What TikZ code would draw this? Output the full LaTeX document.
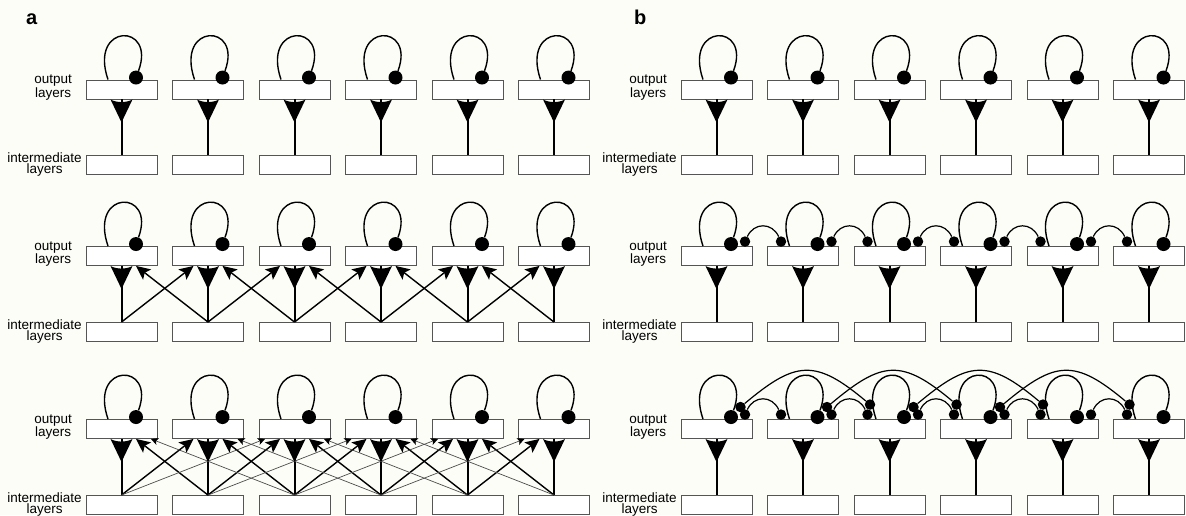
\documentclass[tikz,border=0pt]{standalone}
\usepackage{fontspec}
\setmainfont{Liberation Sans}
\usetikzlibrary{positioning,arrows.meta,calc}
\definecolor{paper}{RGB}{253,253,247}
\definecolor{edgegray}{RGB}{85,85,85}
\newcommand{\synwedge}[1]{\fill ([xshift=-11pt]#1.south) -- ([yshift=-23pt]#1.south) -- ([xshift=11pt]#1.south)
  .. controls ([xshift=5pt,yshift=-3.5pt]#1.south) and ([xshift=-5pt,yshift=-3.5pt]#1.south) .. cycle;}

\begin{document}
\begin{tikzpicture}[x=1pt, y=1pt,
  font=\fontsize{13.5pt}{11pt}\selectfont,
  lyrbox/.style={draw=edgegray, fill=white, line width=0.9pt, minimum width=71pt, minimum height=19pt, inner sep=0pt},
  lbl/.style={align=center, inner sep=0pt},
  tag/.style={font=\fontsize{20pt}{20pt}\selectfont\bfseries, anchor=base west, inner sep=0pt},
  bigdot/.style={circle, fill=black, minimum size=14pt, inner sep=0pt},
  smalldot/.style={circle, fill=black, minimum size=10.5pt, inner sep=0pt},
  stem/.style={line width=2pt},
  selfloop/.style={line width=1.4pt},
  lat/.style={line width=1.2pt},
  exc1/.style={line width=1.4pt, -{Stealth[length=14pt,width=13pt,inset=3pt]}},
  exc2/.style={line width=0.7pt, draw=black!70, -{Stealth[length=7pt,width=7pt,inset=1.5pt,color=black]}}]
  \path[use as bounding box, fill=paper] (0,0) rectangle (1186,515);
  \node[tag] (pa) at (26,490) {a};
  \node[tag] (pb) at (634,490) {b};
  % boxes, stems and self loops
  \foreach \r/\yo/\yi in {1/425.5/350, 2/259/183, 3/86/10} {
    \foreach \i in {0,...,5} {
      \node[lyrbox] (oa\r\i) at (121.5+86.5*\i,\yo) {};
      \node[lyrbox] (ia\r\i) at (121.5+86.5*\i,\yi) {};
      \node[lyrbox] (ob\r\i) at (716.5+86.5*\i,\yo) {};
      \node[lyrbox] (ib\r\i) at (716.5+86.5*\i,\yi) {};
      \draw[stem] (ia\r\i.north) -- (oa\r\i.south);
      \draw[stem] (ib\r\i.north) -- (ob\r\i.south);
      \node[bigdot] (da\r\i) at ([xshift=14.5pt,yshift=2pt]oa\r\i.north) {};
      \node[bigdot] (db\r\i) at ([xshift=14.5pt,yshift=2pt]ob\r\i.north) {};
      \draw[selfloop] ([xshift=-13.5pt]oa\r\i.north) .. controls ([xshift=-33pt,yshift=57pt]oa\r\i.north) and ([xshift=35pt,yshift=57pt]oa\r\i.north) .. (da\r\i);
      \draw[selfloop] ([xshift=-13.5pt]ob\r\i.north) .. controls ([xshift=-33pt,yshift=57pt]ob\r\i.north) and ([xshift=35pt,yshift=57pt]ob\r\i.north) .. (db\r\i);
    }
    \node[lbl] (outa\r) at ([xshift=-32.5pt,yshift=2pt]oa\r0.west) {output\\layers};
    \node[lbl] (inta\r) at ([xshift=-41pt]ia\r0.west) {intermediate\\layers};
    \node[lbl] (outb\r) at ([xshift=-32.5pt,yshift=2pt]ob\r0.west) {output\\layers};
    \node[lbl] (intb\r) at ([xshift=-41pt]ib\r0.west) {intermediate\\layers};
  }
  % a: feedforward to neighbours
  \foreach \r in {2,3} {
    \foreach \i in {0,...,4} {
      \pgfmathtruncatemacro\j{\i+1}
      \draw[exc1] (ia\r\i.north) -- ([xshift=-14.5pt]oa\r\j.south);
      \draw[exc1] (ia\r\j.north) -- ([xshift=14.5pt]oa\r\i.south);
    }
  }
  \foreach \i in {0,...,3} {
    \pgfmathtruncatemacro\k{\i+2}
    \draw[exc2] (ia3\i.north) -- ([xshift=-29.5pt]oa3\k.south);
    \draw[exc2] (ia3\k.north) -- ([xshift=29.5pt]oa3\i.south);
  }
  % wedges on top
  \foreach \r in {1,2,3} {
    \foreach \i in {0,...,5} {
      \synwedge{oa\r\i}
      \synwedge{ob\r\i}
    }
  }
  % b: lateral links between output layers
  \foreach \r in {2,3} {
    \foreach \i in {0,...,4} {
      \pgfmathtruncatemacro\j{\i+1}
      \node[smalldot] (sr\r\i) at ([xshift=28.5pt,yshift=4.5pt]ob\r\i.north) {};
      \node[smalldot] (sl\r\j) at ([xshift=-22pt,yshift=4.5pt]ob\r\j.north) {};
      \draw[lat] (sr\r\i) to[out=65,in=115,looseness=1.3] (sl\r\j);
    }
  }
  \foreach \i in {0,...,3} {
    \pgfmathtruncatemacro\k{\i+2}
    \node[smalldot] (fr\i) at ([xshift=24pt,yshift=12pt]ob3\i.north) {};
    \node[smalldot] (fl\k) at ([xshift=-19.5pt,yshift=14.5pt]ob3\k.north) {};
    \draw[lat] (fr\i) to[out=40,in=140,looseness=1.4] (fl\k);
  }
\end{tikzpicture}
\end{document}
